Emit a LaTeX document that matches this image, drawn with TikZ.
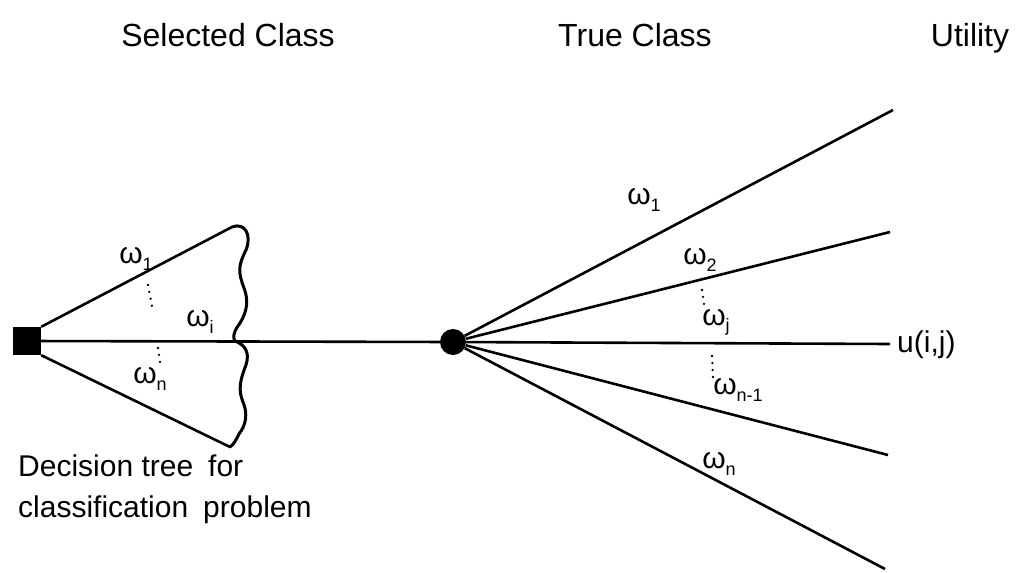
\documentclass[tikz,border=0pt]{standalone}
\usepackage{fontspec}
\setmainfont{Liberation Sans}
\newcommand\omsub[1]{ω\raisebox{-0.4ex}{\fontsize{18}{20}\selectfont #1}}
\begin{document}
\begin{tikzpicture}[x=1pt,y=-1pt,
  edge/.style={line width=2.6pt},
  lbl/.style={font=\fontsize{30}{32}\selectfont, inner sep=0pt},
  head/.style={font=\fontsize{32}{34}\selectfont, inner sep=0pt, anchor=base},
  dotsv/.style={line width=2.6pt, line cap=round, dash pattern=on 0pt off 7pt},
  every node/.style={inner sep=0pt}]
\useasboundingbox (0,0) rectangle (1026,573);
% titles
\node[head] (t1) at (228,46) {Selected Class};
\node[head] (t2) at (635,46) {True Class};
\node[head] (t3) at (970,46) {Utility};
% decision and chance nodes
\node[fill=black, minimum size=28pt] (sq) at (27,341) {};
\node[circle, fill=black, minimum size=26pt] (ch) at (453,342) {};
% left branches
\coordinate (lu) at (232,227);
\coordinate (ll) at (230,447);
\coordinate (lm) at (235,341);
\draw[edge] (sq.north east) -- (lu);
\draw[edge] (sq.south east) -- (ll);
\draw[edge] (sq) -- (ch);
% wavy brace
\draw[edge, line width=3pt, line cap=round]
  (lu) .. controls (245,222) and (252,235) .. (246,250)
  .. controls (238,266) and (238,272) .. (244,288)
  .. controls (250,304) and (245,316) .. (238,326)
  .. controls (233,333) and (233,338) .. (lm);
\draw[edge, line width=3pt, line cap=round]
  (lm) .. controls (245,345) and (250,352) .. (246,365)
  .. controls (240,380) and (238,390) .. (243,402)
  .. controls (248,414) and (246,425) .. (239,434)
  .. controls (236,440) and (234,444) .. (ll);
% left labels
\node[lbl] (w1l) at (136,259) {\omsub{1}};
\node[lbl] (wil) at (200,322) {\omsub{i}};
\node[lbl] (wnl) at (150,379) {\omsub{n}};
\draw[dotsv] (148,285) -- (152,306);
\draw[dotsv] (158,348) -- (160,362);
% right labels
\node[lbl] (w1r) at (644,200) {\omsub{1}};
\node[lbl] (w2r) at (700,260) {\omsub{2}};
\node[lbl] (wjr) at (716,322) {\omsub{j}};
\node[lbl] (wn1r) at (738,390) {\omsub{n-1}};
\node[lbl] (wnr) at (719,464) {\omsub{n}};
\draw[dotsv] (702,290) -- (704,304);
\draw[dotsv] (712,356) -- (713,377);
% right branches
\coordinate (r1) at (893,110);
\coordinate (r2) at (890,232);
\coordinate (r3) at (890,344);
\coordinate (r4) at (888,455);
\coordinate (r5) at (885,569);
\draw[edge] (ch) -- (r1);
\draw[edge] (ch) -- (r2);
\draw[edge] (ch) -- (r3);
\draw[edge] (ch) -- (r4);
\draw[edge] (ch) -- (r5);
\node[lbl, anchor=west] (u) at (897,345) {u(i,j)};
% caption
\node[lbl, anchor=west] (c1) at (18,466) {Decision tree\enspace for};
\node[lbl, anchor=west] (c2) at (18,510) {classification\enspace problem};
\end{tikzpicture}
\end{document}
